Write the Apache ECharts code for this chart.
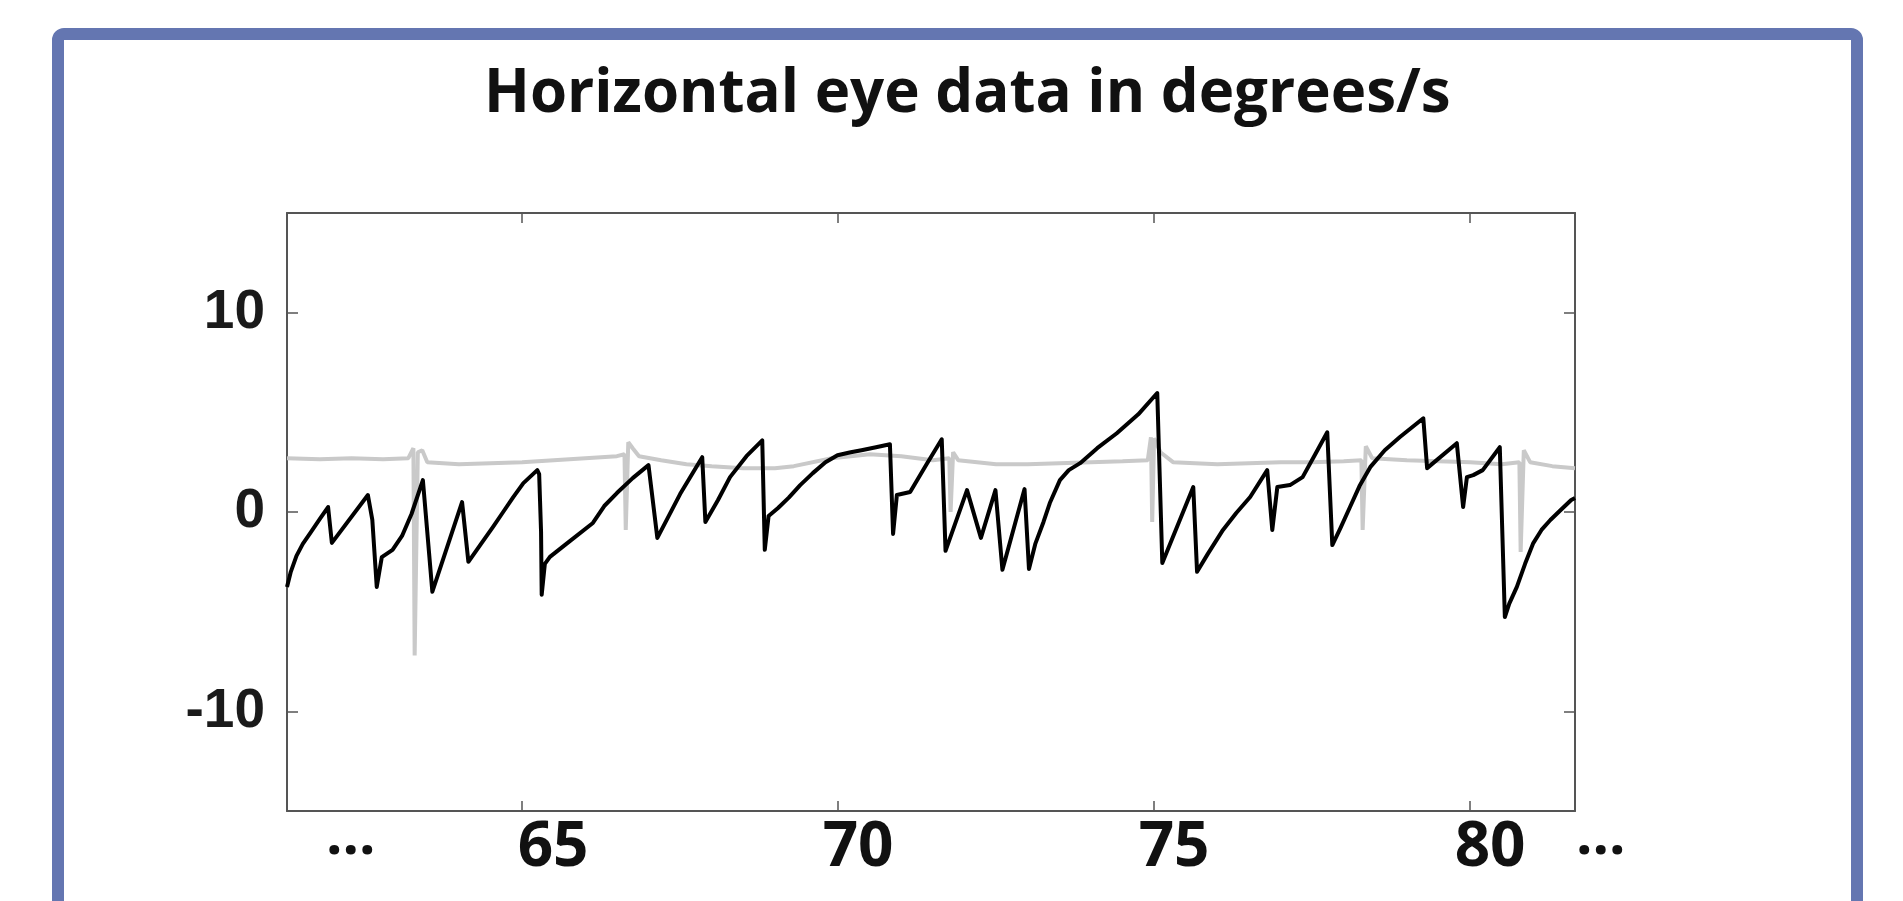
<!DOCTYPE html>
<html>
<head>
<meta charset="utf-8">
<script src="https://cdn.jsdelivr.net/npm/echarts@6/dist/echarts.min.js"></script>
<style>
html,body{margin:0;padding:0;background:#fff;}
#chart{width:1903px;height:901px;}
</style>
</head>
<body>
<div id="chart"></div>
<script>
// Time (s) and velocity (deg/s) of the black trace
const eyeTime = [61.28,61.34,61.43,61.53,61.65,61.80,61.93,61.99,62.56,62.63,62.70,62.78,62.95,63.10,63.25,63.43,63.58,64.05,64.15,64.35,64.54,64.70,64.86,65.02,65.24,65.27,65.30,65.31,65.36,65.44,65.70,66.12,66.30,66.50,66.75,67.00,67.14,67.50,67.85,67.90,68.10,68.29,68.55,68.80,68.84,68.90,69.05,69.22,69.40,69.60,69.80,69.99,70.20,70.37,70.60,70.82,70.87,70.93,71.14,71.40,71.64,71.70,72.04,72.26,72.49,72.60,72.95,73.02,73.12,73.25,73.35,73.51,73.65,73.83,74.10,74.41,74.75,75.05,75.13,75.62,75.68,75.85,76.09,76.30,76.52,76.79,76.87,76.95,77.15,77.35,77.55,77.74,77.82,77.95,78.10,78.25,78.42,78.65,78.89,79.26,79.32,79.79,79.89,79.95,80.05,80.20,80.47,80.55,80.62,80.74,80.87,81.00,81.13,81.27,81.45,81.60,81.66];
const eyeVel  = [-3.76,-3.00,-2.20,-1.60,-1.05,-0.35,0.25,-1.55,0.85,-0.40,-3.76,-2.26,-1.90,-1.20,-0.10,1.60,-4.00,0.50,-2.50,-1.60,-0.75,0.00,0.75,1.45,2.10,1.90,-1.00,-4.15,-2.60,-2.25,-1.60,-0.55,0.30,0.95,1.70,2.35,-1.30,0.90,2.75,-0.50,0.60,1.75,2.80,3.59,-1.90,-0.20,0.20,0.72,1.35,1.95,2.50,2.85,3.00,3.10,3.25,3.40,-1.10,0.85,1.00,2.40,3.65,-1.95,1.10,-1.30,1.10,-2.90,1.15,-2.86,-1.60,-0.50,0.45,1.60,2.10,2.45,3.20,3.95,4.90,5.97,-2.56,1.25,-3.00,-2.10,-0.90,-0.05,0.75,2.10,-0.90,1.25,1.35,1.75,2.90,4.00,-1.66,-0.80,0.25,1.30,2.25,3.10,3.76,4.70,2.20,3.45,0.25,1.75,1.85,2.10,3.25,-5.27,-4.60,-3.76,-2.60,-1.56,-0.90,-0.40,0.15,0.60,0.70];

// Time (s) and value of the grey trace
const refTime = [61.28,61.80,62.30,62.80,63.20,63.28,63.30,63.33,63.35,63.42,63.50,64.00,64.50,65.00,65.50,66.00,66.50,66.62,66.64,66.66,66.68,66.75,66.85,67.20,67.60,68.00,68.50,69.00,69.30,69.90,70.50,71.00,71.50,71.76,71.78,71.80,71.82,71.90,72.50,73.00,73.50,74.00,74.50,74.90,74.95,74.97,75.00,75.10,75.30,76.00,76.50,77.00,77.50,78.00,78.28,78.30,78.33,78.35,78.45,79.00,79.50,80.00,80.50,80.78,80.80,80.83,80.85,80.95,81.30,81.66];
const refVal  = [2.70,2.65,2.70,2.65,2.70,3.20,-7.20,-7.20,3.00,3.10,2.50,2.40,2.45,2.50,2.60,2.70,2.80,2.90,-0.90,-0.90,3.50,3.20,2.80,2.60,2.40,2.30,2.20,2.20,2.30,2.70,2.90,2.80,2.60,2.70,0.00,0.00,3.00,2.60,2.40,2.40,2.45,2.50,2.55,2.60,3.75,-0.50,3.70,3.00,2.50,2.40,2.45,2.50,2.50,2.55,2.60,-0.90,-0.90,3.30,2.70,2.60,2.55,2.50,2.40,2.50,-2.00,-2.00,3.10,2.50,2.30,2.20];

// Axis ticks and labels
const xTicks = [65, 70, 75, 80];
const yTicks = [-10, 0, 10];
const xRange = [61.28, 81.66];
const yRange = [-15, 15];
const titleText = 'Horizontal eye data in degrees/s';
const ellipsis = '...';

const eyeData = eyeTime.map((t, i) => [t, eyeVel[i]]);
const refData = refTime.map((t, i) => [t, refVal[i]]);

const axisColor = '#555555';
const chart = echarts.init(document.getElementById('chart'));

const xBase = {
  type: 'value', min: xRange[0], max: xRange[1],
  axisLine: {show: true, onZero: false, lineStyle: {color: axisColor, width: 2}},
  axisTick: {show: true, inside: true, length: 10, customValues: xTicks, lineStyle: {color: axisColor, width: 1.5}},
  splitLine: {show: false}
};
const yBase = {
  type: 'value', min: yRange[0], max: yRange[1],
  axisLine: {show: true, onZero: false, lineStyle: {color: axisColor, width: 2}},
  axisTick: {show: true, inside: true, length: 11, customValues: yTicks, lineStyle: {color: axisColor, width: 1.5}},
  splitLine: {show: false}
};

chart.setOption({
  animation: false,
  backgroundColor: '#ffffff',
  title: {
    text: titleText,
    left: 479,
    top: 60,
    textStyle: {fontFamily: 'Open Sans', fontWeight: 'bold', fontSize: 60, color: '#111111'}
  },
  grid: {left: 287, right: 328, top: 213, bottom: 90},
  xAxis: [
    Object.assign({}, xBase, {
      position: 'bottom',
      axisLabel: {
        show: true, customValues: xTicks, margin: 6,
        fontFamily: 'Open Sans', fontWeight: 'bold', fontSize: 62, color: '#111111',
        padding: [0, 0, 0, 40],
        formatter: function (v) { return v === xTicks[0] ? '{s|' + v + '}' : String(v); },
        rich: {s: {fontFamily: 'Open Sans', fontWeight: 'bold', fontSize: 62, color: '#111111', padding: [0, 0, 0, 22]}}
      }
    }),
    Object.assign({}, xBase, {position: 'top', axisLabel: {show: false}})
  ],
  yAxis: [
    Object.assign({}, yBase, {
      position: 'left',
      axisLabel: {
        show: true, customValues: yTicks, margin: 22,
        fontFamily: 'Liberation Sans', fontWeight: 'bold', fontSize: 55, color: '#1a1a1a'
      }
    }),
    Object.assign({}, yBase, {position: 'right', axisLabel: {show: false}})
  ],
  graphic: [
    {
      type: 'rect', silent: true, z: 100,
      shape: {x: 58, y: 34, width: 1799, height: 1000, r: 6},
      style: {fill: 'none', stroke: '#6476b1', lineWidth: 12}
    },
    {
      type: 'text', left: 326, top: 808, silent: true,
      style: {text: ellipsis, fontFamily: 'Open Sans', fontWeight: 'bold', fontSize: 58, fill: '#111111'}
    },
    {
      type: 'text', left: 1576, top: 808, silent: true,
      style: {text: ellipsis, fontFamily: 'Open Sans', fontWeight: 'bold', fontSize: 58, fill: '#111111'}
    }
  ],
  series: [
    {
      name: 'reference', type: 'line', xAxisIndex: 0, yAxisIndex: 0,
      data: refData, showSymbol: false, symbol: 'none',
      lineStyle: {color: '#c9c9c9', width: 4}, z: 2
    },
    {
      name: 'eye', type: 'line', xAxisIndex: 0, yAxisIndex: 0,
      data: eyeData, showSymbol: false, symbol: 'none',
      lineStyle: {color: '#000000', width: 4, join: 'round'}, z: 3
    }
  ]
});
</script>
</body>
</html>
